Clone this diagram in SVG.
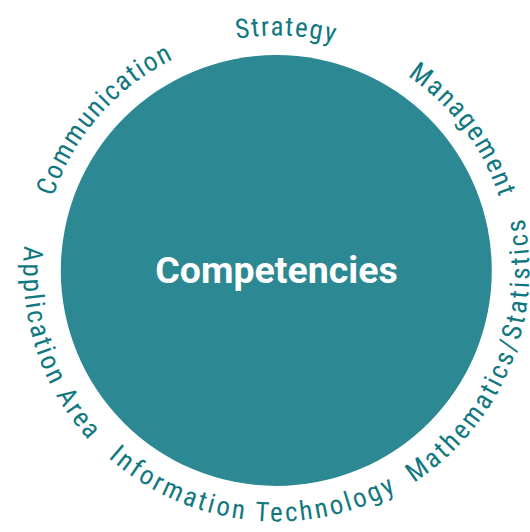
<svg xmlns="http://www.w3.org/2000/svg" xmlns:xlink="http://www.w3.org/1999/xlink" width="530" height="532" viewBox="0 0 530 532">
<style>
.lbl{font-family:"Roboto Condensed",Roboto,"Liberation Sans",sans-serif;font-size:27px;fill:#117880;}
.center{font-family:Roboto,"Liberation Sans",sans-serif;font-weight:bold;font-size:37.5px;fill:#ffffff;}
</style>
<defs>
<path id="pStrategy" d="M43.26,240.23 A235,235 0 0 1 511.06,259.84"/>
<path id="pComm" d="M106.40,432.86 A235,235 0 0 1 415.42,81.11"/>
<path id="pMgmt" d="M151.95,71.16 A235,235 0 0 1 433.34,445.30"/>
<path id="pApp" d="M175.42,38.48 A253,253 0 0 0 335.36,516.51"/>
<path id="pIT" d="M23.34,259.47 A253,253 0 0 0 524.75,315.61"/>
<path id="pMath" d="M201.07,512.05 A253,253 0 0 0 392.34,45.68"/>
</defs>
<rect width="530" height="532" fill="#ffffff"/>
<g id="competencies">
<circle cx="276.3" cy="270.5" r="215.5" fill="#2c8893"/>
<text class="center" x="276.5" y="283" text-anchor="middle">Competencies</text>
</g>
<g id="strategy"><text class="lbl" style="letter-spacing:1.5px"><textPath xlink:href="#pStrategy" href="#pStrategy" startOffset="50%" text-anchor="middle">Strategy</textPath></text></g>
<g id="communication"><text class="lbl" style="letter-spacing:1.6px"><textPath xlink:href="#pComm" href="#pComm" startOffset="50%" text-anchor="middle">Communication</textPath></text></g>
<g id="management"><text class="lbl" style="letter-spacing:1.7px"><textPath xlink:href="#pMgmt" href="#pMgmt" startOffset="50%" text-anchor="middle">Management</textPath></text></g>
<g id="application-area"><text class="lbl" style="letter-spacing:2.3px"><textPath xlink:href="#pApp" href="#pApp" startOffset="50%" text-anchor="middle">Application Area</textPath></text></g>
<g id="information-technology"><text class="lbl" style="letter-spacing:2.7px"><textPath xlink:href="#pIT" href="#pIT" startOffset="50%" text-anchor="middle">Information Technology</textPath></text></g>
<g id="mathematics-statistics"><text class="lbl" style="letter-spacing:2.6px"><textPath xlink:href="#pMath" href="#pMath" startOffset="50%" text-anchor="middle">Mathematics/Statistics</textPath></text></g>
<g id="connectors"></g>
</svg>
